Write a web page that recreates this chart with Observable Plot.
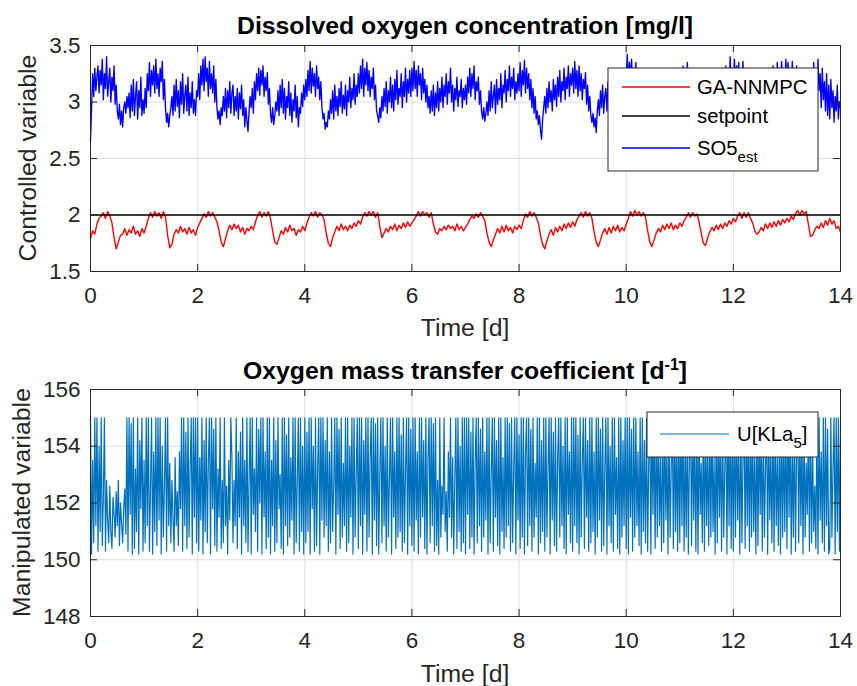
<!DOCTYPE html>
<html><head><meta charset="utf-8">
<script src="https://cdn.jsdelivr.net/npm/d3@7"></script>
<script src="https://cdn.jsdelivr.net/npm/@observablehq/plot@0.6"></script>
<style>
body{margin:0;background:#fff;}
#chart{width:857px;}
#chart svg{display:block;}
</style>
</head><body><div id="chart"></div>
<script>
const days = 14;
const gaNNMPC = [
1.79,1.86,1.83,1.92,1.97,1.99,2.02,1.97,2.03,1.99,1.93,1.80,1.70,1.76,1.82,1.83,1.88,1.82,1.87,1.84,1.90,1.83,1.86,1.81,1.88,
1.84,1.90,1.97,2.02,1.98,2.03,1.99,2.02,1.97,2.03,1.98,1.82,1.71,1.74,1.83,1.87,1.84,1.90,1.85,1.88,1.83,1.89,1.84,1.87,1.82,
1.89,1.93,1.97,2.01,1.98,2.03,1.99,2.02,1.98,1.94,1.86,1.76,1.72,1.79,1.86,1.91,1.87,1.92,1.88,1.91,1.85,1.89,1.83,1.88,1.86,
1.90,1.87,1.94,2.00,2.03,1.98,2.02,1.99,2.03,1.97,1.86,1.76,1.74,1.80,1.86,1.83,1.89,1.85,1.91,1.86,1.88,1.82,1.87,1.85,1.90,
1.86,1.93,1.98,2.02,1.99,2.03,1.98,2.02,2.00,1.96,1.84,1.75,1.72,1.80,1.85,1.90,1.86,1.92,1.87,1.90,1.86,1.91,1.88,1.93,1.90,
1.95,1.92,1.98,2.02,1.99,2.03,2.00,2.03,1.98,2.02,1.90,1.80,1.84,1.88,1.85,1.90,1.87,1.92,1.86,1.91,1.88,1.93,1.89,1.94,1.90,
1.93,1.96,1.99,2.03,1.99,2.03,2.00,2.02,1.98,2.02,1.92,1.85,1.83,1.88,1.86,1.90,1.87,1.91,1.88,1.90,1.86,1.92,1.87,1.90,1.86,
1.89,1.92,1.96,1.99,1.97,2.01,1.98,2.02,1.99,1.95,1.84,1.76,1.72,1.78,1.83,1.88,1.84,1.90,1.85,1.91,1.86,1.89,1.84,1.90,1.87,
1.91,1.88,1.95,2.01,1.98,2.03,1.99,2.02,1.98,1.93,1.82,1.74,1.70,1.77,1.83,1.87,1.82,1.89,1.85,1.90,1.86,1.92,1.88,1.93,1.89,
1.94,1.90,1.96,1.99,2.02,1.98,2.03,1.99,2.02,1.97,1.85,1.76,1.72,1.78,1.84,1.88,1.83,1.89,1.84,1.90,1.86,1.91,1.85,1.89,1.86,
1.92,1.97,2.03,1.99,2.04,2.00,2.03,1.99,2.02,1.98,1.86,1.76,1.72,1.78,1.84,1.88,1.85,1.91,1.87,1.92,1.88,1.93,1.87,1.91,1.88,
1.93,1.90,1.95,1.98,2.02,1.98,2.02,1.99,2.01,1.94,1.84,1.75,1.73,1.80,1.85,1.89,1.86,1.91,1.87,1.92,1.88,1.93,1.90,1.95,1.92,
1.97,1.94,1.99,2.02,1.97,2.02,1.98,2.02,1.97,1.93,1.86,1.83,1.85,1.89,1.86,1.92,1.88,1.93,1.89,1.94,1.90,1.95,1.91,1.96,1.93,
1.97,1.94,1.99,1.96,2.01,2.04,2.00,2.04,2.01,2.03,1.92,1.81,1.82,1.87,1.90,1.88,1.93,1.89,1.95,1.91,1.97,1.92,1.95,1.88,1.90,1.85
];
const setpoint = 2;
const so5Est = [
2.65,2.95,3.25,3.05,3.30,3.10,3.22,3.32,3.08,3.28,3.15,3.38,3.02,3.25,3.12,3.40,3.05,3.18,3.30,3.00,3.22,3.10,3.32,2.98,3.15,2.92,2.85,2.98,2.80,2.92,2.78,2.95,3.00,2.90,3.05,2.95,3.08,2.86,3.15,2.92,3.20,2.88,3.05,3.18,2.85,3.10,2.95,3.22,2.88,3.02,
2.90,3.12,2.95,3.25,3.10,3.35,3.05,3.28,3.15,3.32,3.08,3.38,3.12,3.25,3.05,3.30,3.18,3.36,3.02,3.20,2.95,2.82,2.90,2.78,2.88,2.95,3.05,2.88,3.15,2.92,3.20,2.96,3.10,2.86,3.18,2.98,3.25,2.90,3.05,3.15,2.92,3.22,2.88,3.08,2.95,3.18,2.90,3.02,2.88,3.10,
3.05,3.25,3.02,3.32,3.15,3.38,3.10,3.40,3.18,3.30,3.05,3.36,3.12,3.25,3.08,3.32,3.00,3.20,2.95,2.85,2.92,2.80,2.95,2.88,3.05,2.92,3.12,2.86,3.10,2.95,3.18,2.90,3.08,3.15,2.88,3.05,2.92,3.12,2.85,3.08,2.94,3.15,2.88,3.02,2.78,2.95,2.84,2.74,2.92,3.05,
2.95,3.12,2.90,3.18,3.02,3.25,3.10,3.30,3.06,3.28,3.15,3.32,3.05,3.22,3.10,3.26,2.98,3.12,2.90,2.82,2.95,2.80,2.88,3.00,2.92,3.10,2.88,3.15,2.95,3.20,2.90,3.12,2.85,3.05,2.95,3.18,2.88,3.08,2.82,3.02,2.92,3.15,2.86,3.05,2.78,2.95,2.90,3.08,2.96,3.15,
3.02,3.20,3.05,3.28,3.10,3.36,3.08,3.30,3.14,3.25,3.05,3.32,3.12,3.22,3.02,3.18,2.95,2.85,2.90,2.76,2.82,2.78,2.92,2.85,3.02,2.90,3.10,2.85,3.15,2.92,3.05,2.88,3.12,2.96,3.18,2.90,3.06,2.94,3.15,2.88,3.10,3.00,3.22,2.95,3.12,3.02,3.25,2.98,3.15,3.05,
3.25,3.08,3.32,3.12,3.38,3.05,3.30,3.15,3.35,3.10,3.28,3.05,3.22,3.12,3.30,3.02,3.15,2.92,2.88,2.82,2.95,2.86,3.05,2.92,3.12,2.96,3.18,2.90,3.10,3.00,3.22,2.95,3.15,2.92,3.20,3.02,3.28,2.98,3.12,3.05,3.25,2.95,3.18,3.05,3.30,3.00,3.20,3.08,3.28,3.05,
3.30,3.10,3.36,3.12,3.28,3.05,3.32,3.15,3.25,3.02,3.30,3.08,3.20,3.00,3.15,2.95,3.05,2.90,3.10,2.92,3.15,2.88,3.08,2.95,3.18,2.92,3.12,3.00,3.22,2.95,3.15,3.05,3.25,2.98,3.18,3.08,3.30,3.00,3.15,2.92,3.12,3.02,3.22,2.96,3.10,3.05,3.20,2.95,3.12,3.02,
3.15,2.98,3.22,3.08,3.30,3.05,3.25,3.12,3.32,3.02,3.18,3.10,3.22,2.98,3.10,2.92,2.85,2.95,2.83,2.90,3.00,2.88,3.10,2.92,3.18,2.95,3.05,3.15,2.90,3.20,2.98,3.12,3.02,3.25,2.95,3.15,3.08,3.28,3.00,3.20,3.10,3.32,3.05,3.22,3.12,3.30,3.02,3.18,3.08,3.25,
3.10,3.35,3.05,3.28,3.15,3.37,3.08,3.30,3.12,3.25,3.02,3.20,2.95,3.12,2.90,3.05,2.85,2.92,2.80,2.88,2.75,2.67,2.85,2.95,3.05,2.90,3.12,2.95,3.18,3.00,3.10,2.92,3.20,3.02,3.15,2.96,3.22,3.05,3.28,3.00,3.18,3.10,3.30,3.02,3.22,3.12,3.32,3.05,3.25,3.15,
3.30,3.08,3.36,3.12,3.28,3.05,3.32,3.10,3.25,3.02,3.20,3.12,3.26,2.98,3.15,2.92,3.05,2.88,2.82,2.90,2.78,2.86,2.73,2.92,3.02,2.88,3.10,2.95,3.15,2.90,3.05,3.12,2.92,3.18,2.98,3.08,2.85,3.00,2.80,2.95,2.88,3.05,2.92,3.12,2.86,3.02,2.95,3.15,2.90,3.08,
3.20,3.42,3.15,3.35,3.22,3.38,3.12,3.30,3.18,3.35,3.08,3.25,3.12,3.28,3.02,3.18,2.95,3.05,2.88,2.95,2.85,2.92,3.02,2.90,3.10,2.95,3.18,3.00,3.12,3.22,2.98,3.15,3.05,3.25,2.96,3.12,3.02,3.22,2.95,3.15,3.05,3.28,3.00,3.18,3.08,3.25,2.98,3.15,3.05,3.22,
3.10,3.28,3.05,3.32,3.12,3.25,3.08,3.35,3.15,3.28,3.05,3.22,3.10,3.30,3.02,3.15,2.95,3.05,2.90,2.98,2.88,3.05,2.95,3.12,3.00,3.18,2.96,3.22,3.05,3.15,3.00,3.25,3.08,3.18,3.02,3.28,3.10,3.20,3.05,3.30,3.12,3.25,3.02,3.32,3.15,3.28,3.08,3.40,3.12,3.30,
3.15,3.38,3.10,3.32,3.18,3.35,3.08,3.28,3.12,3.36,3.05,3.25,3.10,3.30,3.02,3.20,2.98,3.10,2.95,3.05,3.00,3.15,2.95,3.20,3.02,3.25,3.08,3.18,3.02,3.28,3.10,3.22,3.05,3.30,3.12,3.25,3.08,3.32,3.15,3.28,3.10,3.35,3.05,3.30,3.12,3.36,3.18,3.30,3.08,3.38,
3.12,3.35,3.18,3.30,3.08,3.36,3.15,3.28,3.10,3.32,3.05,3.20,3.00,3.12,2.95,3.02,2.90,2.96,2.88,3.05,2.95,3.15,2.92,3.22,3.00,3.35,3.05,3.30,2.98,3.38,3.10,3.25,2.95,3.30,3.02,3.18,2.92,3.25,2.88,3.15,2.85,3.20,2.95,3.10,2.82,3.05,2.92,3.15,2.85,3.00,
2.95
];
const kla5 = [
155,150.2,153.5,150.6,155,151.2,155,150.3,154,151,155,150.5,152.2,155,150.3,152.8,151.4,150.6,152.6,151,150.4,152.2,151.6,150.8,152.4,151.2,152.8,150.5,152,151.3,150.6,151.8,152.5,150.9,155,150.3,155,151.6,154.8,150.2,155,150.4,153.2,151,155,150.2,154.2,151.8,155,150.3,
153.5,150.6,155,151.2,155,150.3,152.5,155,150.2,153.8,151,155,150.5,155,151.4,155,150.2,154,150.8,152.6,155,150.3,155,151.2,153.4,150.6,152.8,151.5,150.3,153.6,151.2,152.4,150.5,153.8,151.8,155,150.3,155,151.2,154.5,150.4,155,150.8,153.2,155,150.2,155,151.5,155,150.6,
155,150.3,153.6,151.4,155,150.2,154.2,151,155,150.6,153.5,155,150.2,155,151.8,154.6,150.5,155,150.3,153.2,151.5,155,150.4,152.8,150.6,155,151.2,152.6,150.2,153.5,151.4,155,153.6,150.6,152.8,151.2,155,150.4,153.8,151.5,154.5,150.2,155,151.2,153.5,150.6,155,150.3,152.8,155,
150.2,155,151.6,153.2,151,155,150.3,154.6,152,155,150.2,155,151.5,153.8,150.4,155,150.8,155,150.2,153.5,151.2,155,150.3,154.2,150.6,155,151.8,153,150.4,155,150.2,155,151.2,154.4,150.5,155,150.8,153.6,151.4,155,150.2,155,150.6,152.8,155,150.3,155,151,154,150.2,
155,150.6,154.5,151,155,150.2,155,151.8,154,150.3,155,150.5,153.2,155,150.2,155,151.4,155,150.8,154.2,151.2,155,150.3,153.8,150.6,155,151,152.6,155,150.2,155,151.6,154.6,150.4,155,150.8,153.4,151.2,155,150.3,155,150.6,154,151.5,155,150.2,155,150.8,153,155,
150.4,155,151.2,155,150.2,154.2,151.6,155,150.3,155,150.8,153.6,155,150.2,155,151.4,154.8,150.5,155,150.2,153,155,150.6,155,151.2,154,150.3,155,150.8,152.8,155,150.2,155,151.5,153.8,150.4,155,150.8,155,151,154.4,150.3,155,150.6,153.2,155,150.2,155,151.2,154.6,
150.5,155,150.3,155,151.4,153.8,150.2,155,150.8,155,151.5,154.2,150.4,155,150.2,153.6,155,150.6,155,151.2,154.8,150.3,155,150.5,152.8,150.2,155,150.8,152.6,151.6,155,151,152.4,150.3,153.8,151.5,155,150.8,153.6,150.2,152.8,155,150.4,155,151,154,150.3,155,150.6,155,
150.2,155,151.6,155,150.4,154.5,150.8,155,150.2,153.4,155,150.6,155,151.2,154.6,150.3,155,150.8,153.8,151.4,155,150.2,155,150.6,153,155,150.3,155,151.5,154.2,150.5,155,150.2,155,151,153.6,150.4,155,150.8,155,151.2,154.8,150.3,155,150.6,153.2,155,150.2,155,151.4,
154.4,150.4,155,150.8,155,150.2,153.8,155,150.5,155,151.2,154.6,150.3,155,150.8,153.4,151.5,155,150.2,155,150.6,154.2,151,155,150.3,155,150.8,153.2,155,150.2,155,151.4,154.5,150.5,155,150.3,153.6,155,150.8,155,151.2,154,150.4,155,150.2,155,151.6,153.8,150.6,155,
150.3,155,151.2,155,150.6,154.4,150.2,155,150.8,153.5,155,150.4,155,151.5,154.2,150.3,155,150.6,155,151,153.8,150.2,155,150.8,155,151.4,154.6,150.3,155,150.5,153.2,155,150.2,155,151.2,154,150.6,155,150.3,155,151.6,153.6,150.4,155,150.2,155,150.8,154.2,151.2,155,
150.4,155,150.2,155,151.5,154.6,150.3,155,150.8,155,151.2,153.8,150.5,155,150.2,155,151,154.2,150.6,155,150.3,153.4,155,150.2,155,151.6,154.8,150.4,155,150.8,155,151.2,153.6,150.3,155,150.6,155,151.4,154,150.2,155,150.8,153.2,155,150.4,155,151,154.5,150.3,155,
150.6,155,151.2,155,150.3,154.2,150.8,155,150.2,153.8,155,150.5,155,151.4,154.6,150.3,155,150.2,155,151.6,153.4,150.6,155,150.3,155,151.2,154,150.5,155,150.8,155,151,153.6,150.2,155,150.6,155,151.5,154.4,150.3,155,150.8,153.2,155,150.2,155,151.2,154.8,150.4,155,
150.3,155,150.8,155,151.4,154.2,150.2,155,150.6,153.6,155,150.4,155,151.2,154.8,150.3,155,150.8,155,151,153.8,150.2,155,150.5,155,151.6,154.4,150.3,155,150.8,153.2,155,150.2,155,151.4,154,150.6,155,150.3,155,151.2,153.6,150.5,155,150.2,155,150.8,154.6,151,155,
150.4,155,151.5,155,150.2,154.2,150.8,155,150.3,153.8,155,150.6,155,151.2,154.5,150.2,155,150.8,153.4,151.6,155,150.3,155,150.6,154,151,152.6,150.4,155,150.2,155,151.4,153.8,150.6,155,150.3,155,151.2,154.6,150.2,150.4,155,150.8,153.2,155,150.2,155,151,155,150.3,
154.8
];
const xTicks = [0,2,4,6,8,10,12,14];
const yTicksTop = [1.5,2,2.5,3,3.5];
const yTicksBottom = [148,150,152,154,156];

// ---- helpers ----
const toRows = arr => arr.map((v, i) => ({t: i * days / (arr.length - 1), v}));
const W = 857, ML = 90, MR = 17;
const axisColor = "#262626", gridColor = "#dfdfdf";
const font = "'Liberation Sans', Arial, Helvetica, sans-serif";
const tickFont = 22.5, labelFont = 24.8, legendFont = 20.3;

function gridMarks(yTicks) {
  return [
    Plot.gridX(xTicks, {stroke: gridColor, strokeOpacity: 1}),
    Plot.gridY(yTicks, {stroke: gridColor, strokeOpacity: 1}),
  ];
}
function overlayMarks(yTicks, frameW, frameH) {
  const tk = 7;
  return [
    Plot.tickX(xTicks, {x: d => d, stroke: axisColor, insetTop: frameH - tk}),
    Plot.tickX(xTicks, {x: d => d, stroke: axisColor, insetBottom: frameH - tk}),
    Plot.tickY(yTicks, {y: d => d, stroke: axisColor, insetRight: frameW - tk}),
    Plot.tickY(yTicks, {y: d => d, stroke: axisColor, insetLeft: frameW - tk}),
    Plot.frame({stroke: axisColor, strokeWidth: 1}),
    Plot.axisX(xTicks, {label: null, tickSize: 0, tickPadding: 16, fontSize: tickFont, color: axisColor, tickFormat: d => String(d)}),
    Plot.axisY(yTicks, {label: null, tickSize: 0, tickPadding: 10, fontSize: tickFont, color: axisColor, tickFormat: d => String(d)}),
  ];
}
// text with optional sub/superscript parts: [string, dy, fontSize]
function addText(svg, parts, {x, y, size, weight = "normal", anchor = "start", rotate = 0, fill = "#000"}) {
  const t = svg.append("text")
    .attr("transform", `translate(${x},${y}) rotate(${rotate})`)
    .attr("text-anchor", anchor).attr("font-family", font).attr("font-size", size)
    .attr("font-weight", weight).attr("fill", fill);
  for (const [s, dy, fs] of parts) {
    const ts = t.append("tspan").text(s);
    if (dy) ts.attr("dy", dy);
    if (fs) ts.attr("font-size", fs);
  }
  return t;
}

const chart = document.getElementById("chart");

// ---- top panel ----
{
  const H = 343, MT = 45, MB = 72;
  const fw = W - ML - MR, fh = H - MT - MB;
  const p = Plot.plot({
    width: W, height: H, marginLeft: ML, marginRight: MR, marginTop: MT, marginBottom: MB,
    style: {fontFamily: font, background: "white", overflow: "visible"},
    x: {domain: [0, days]},
    y: {domain: [1.5, 3.5]},
    marks: [
      ...gridMarks(yTicksTop),
      Plot.lineY(toRows(gaNNMPC), {x: "t", y: "v", stroke: "#ff0000", strokeWidth: 1.4}),
      Plot.ruleY([setpoint], {stroke: "#000000", strokeWidth: 1.4}),
      Plot.lineY(toRows(so5Est), {x: "t", y: "v", stroke: "#0000ff", strokeWidth: 1.35}),
      ...overlayMarks(yTicksTop, fw, fh)
    ]
  });
  chart.appendChild(p);
  const svg = d3.select(p);
  addText(svg, [["Dissolved oxygen concentration [mg/l]"]], {x: ML + fw / 2, y: MT - 11, size: labelFont, weight: "bold", anchor: "middle"});
  addText(svg, [["Time [d]"]], {x: ML + fw / 2, y: MT + fh + 65, size: labelFont, anchor: "middle", fill: axisColor});
  addText(svg, [["Controlled variable"]], {x: 36, y: MT + fh / 2, size: labelFont, anchor: "middle", rotate: -90, fill: axisColor});
  // legend
  const bx = 608, by = 68, bw = 210, bh = 103;
  svg.append("rect").attr("x", bx).attr("y", by).attr("width", bw).attr("height", bh)
    .attr("fill", "white").attr("stroke", axisColor).attr("stroke-width", 1);
  const items = [
    {c: "#ff0000", y: by + 19, parts: [["GA-NNMPC"]]},
    {c: "#000000", y: by + 48, parts: [["setpoint"]]},
    {c: "#0000ff", y: by + 80, parts: [["SO5"], ["est", 7, 15]]}
  ];
  for (const it of items) {
    svg.append("line").attr("x1", bx + 14).attr("x2", bx + 82).attr("y1", it.y).attr("y2", it.y)
      .attr("stroke", it.c).attr("stroke-width", 1.3);
    addText(svg, it.parts, {x: bx + 89, y: it.y + 7, size: legendFont});
  }
}

// ---- bottom panel ----
{
  const H = 343, MT = 46, MB = 70;
  const fw = W - ML - MR, fh = H - MT - MB;
  const p = Plot.plot({
    width: W, height: H, marginLeft: ML, marginRight: MR, marginTop: MT, marginBottom: MB,
    style: {fontFamily: font, background: "white", overflow: "visible"},
    x: {domain: [0, days]},
    y: {domain: [148, 156]},
    marks: [
      ...gridMarks(yTicksBottom),
      Plot.lineY(toRows(kla5), {x: "t", y: "v", stroke: "#0072bd", strokeWidth: 1.2}),
      ...overlayMarks(yTicksBottom, fw, fh)
    ]
  });
  chart.appendChild(p);
  const svg = d3.select(p);
  addText(svg, [["Oxygen mass transfer coefficient [d"], ["-1", -9, 16], ["]", 9]],
    {x: ML + fw / 2, y: MT - 10, size: labelFont, weight: "bold", anchor: "middle"});
  addText(svg, [["Time [d]"]], {x: ML + fw / 2, y: MT + fh + 66, size: labelFont, anchor: "middle", fill: axisColor});
  addText(svg, [["Manipulated variable"]], {x: 30, y: MT + fh / 2, size: labelFont, anchor: "middle", rotate: -90, fill: axisColor});
  // legend
  const bx = 647, by = 412 - 343, bw = 171, bh = 45;
  svg.append("rect").attr("x", bx).attr("y", by).attr("width", bw).attr("height", bh)
    .attr("fill", "white").attr("stroke", axisColor).attr("stroke-width", 1);
  const ly = by + 22;
  svg.append("line").attr("x1", bx + 13).attr("x2", bx + 82).attr("y1", ly).attr("y2", ly)
    .attr("stroke", "#0072bd").attr("stroke-width", 1.2);
  addText(svg, [["U[KLa"], ["5", 7, 15], ["]", -7]], {x: bx + 90, y: ly + 7, size: legendFont});
}
</script>
</body></html>
